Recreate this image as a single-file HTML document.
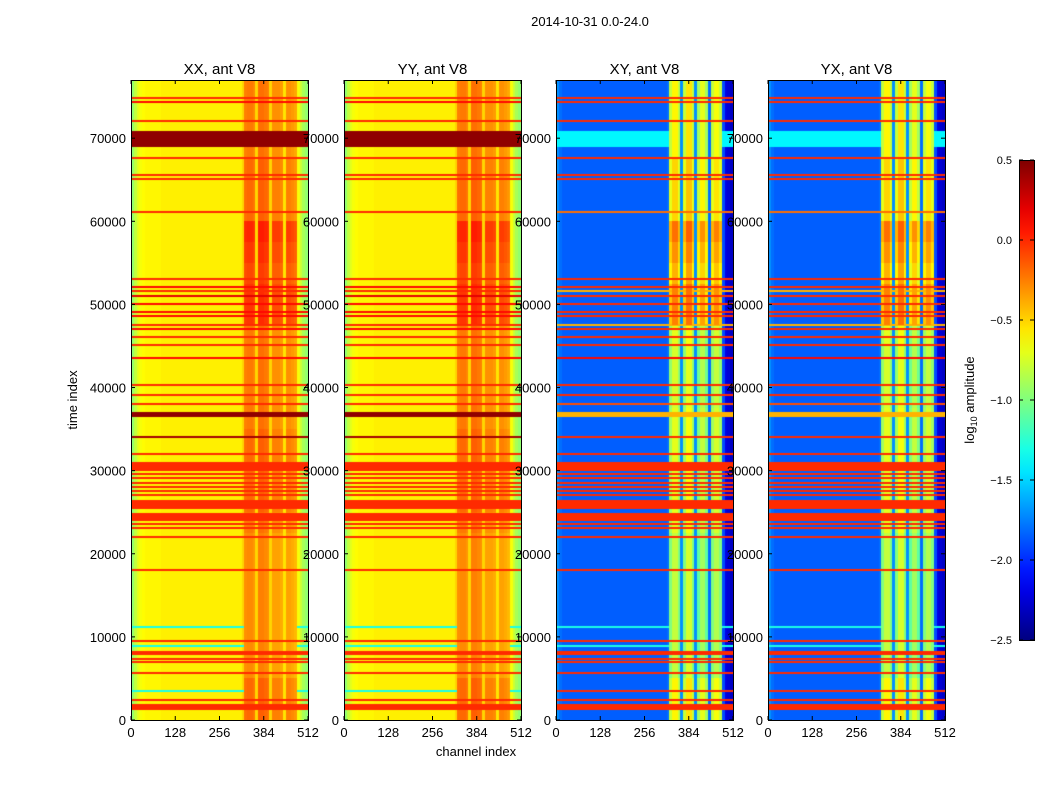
<!DOCTYPE html>
<html><head><meta charset="utf-8">
<style>
body{margin:0;background:#fff;width:1050px;height:800px;position:relative;overflow:hidden;font-family:"Liberation Sans",sans-serif;}
.t{position:absolute;font-size:13px;color:#000;white-space:nowrap;}
canvas{position:absolute;z-index:1;}
#ax{z-index:2;}
</style></head><body>
<div class="t" style="left:0;width:1180px;text-align:center;top:14px;">2014-10-31 0.0-24.0</div>
<svg id="ax" width="1050" height="800" style="position:absolute;left:0;top:0"></svg>
<script>
// ---- data ----
const panelTitles=["XX, ant V8","YY, ant V8","XY, ant V8","YX, ant V8"];
const xTicks=[0,128,256,384,512];
const yTicks=[0,10000,20000,30000,40000,50000,60000,70000];
const cbTicks=[0.5,0.0,-0.5,-1.0,-1.5,-2.0,-2.5];
// column profile per 8-channel bin (log10 amplitude)
const colXX=[-0.95,-0.8,-0.7,-0.65,-0.62,-0.6,-0.6,-0.6,-0.6,-0.6,-0.6,-0.58,-0.58,-0.58,-0.58,-0.58,-0.58,-0.58,-0.58,-0.58,-0.58,-0.58,-0.58,-0.58,-0.58,-0.58,-0.58,-0.58,-0.58,-0.58,-0.58,-0.58,-0.58,-0.58,-0.58,-0.58,-0.58,-0.58,-0.58,-0.58,
 -0.5,-0.3,-0.28,-0.28,-0.32,-0.5,-0.25,-0.25,-0.28,-0.3,-0.5,-0.35,-0.35,-0.35,-0.38,-0.55,-0.35,-0.35,-0.38,-0.42,-0.65,-0.78,-0.88,-0.95];
const colXY=[-1.7,-1.8,-1.85,-1.85,-1.85,-1.85,-1.85,-1.85,-1.85,-1.85,-1.85,-1.85,-1.85,-1.85,-1.85,-1.85,-1.85,-1.85,-1.85,-1.85,-1.85,-1.85,-1.85,-1.85,-1.85,-1.85,-1.85,-1.85,-1.85,-1.85,-1.85,-1.85,-1.85,-1.85,-1.85,-1.85,-1.85,-1.85,-1.85,-1.85,
 -1.8,-1.0,-0.8,-0.8,-1.0,-1.7,-1.0,-0.75,-0.75,-1.0,-1.7,-1.1,-0.9,-0.9,-1.1,-1.8,-1.0,-0.85,-0.85,-1.0,-1.9,-2.2,-2.25,-2.3];
// time-dependent boost of the bright region, per 2500 time units
const rowBoostXX=[0.1,0.1,0,0,0,0,0,0,0,0.05,0.1,0.1,0.1,0.1,0.05,0.05,0.05,0.05,0.05,0.25,0.25,0.2,0.25,0.3,0.1,0.1,0.1,0.05,0.05,0.05,0.05];
const rowBoostXY=[0.2,0.2,0,0,0,0,0,0,0,0.1,0.1,0.1,0.1,0.1,0.1,0.05,0.05,0.05,0.1,0.55,0.55,0.4,0.5,0.6,0.3,0.3,0.3,0.2,0.2,0.2,0.2];
// horizontal bands: start time, end time, value (auto-power), value (cross)
const bandStart=[1300,2300,3400,5600,6900,7300,7900,8800,9500,11100,18000,22000,23000,23500,24000,25500,27000,27500,28000,28500,29000,29500,30000,32000,34000,36500,38000,39000,40200,43500,45000,46000,47000,47500,48500,49000,50000,51000,51500,52000,53000,61000,65000,65500,67500,69000,72000,74300,74800];
const bandEnd  =[1900,2420,3520,5720,7020,7420,8300,8920,9620,11220,18120,22120,23120,23620,24800,26400,27120,27620,28120,28620,29120,29620,31000,32120,34150,37000,38120,39120,40320,43650,45120,46120,47120,47620,48620,49120,50120,51120,51620,52150,53120,61120,65120,65620,67620,70800,72120,74450,74920];
const bandVal  =[0,0,-1.3,0,0,0,0,-1.3,0,-1.3,0,0,0,0,0,0,0,0,0,0,0,0,0,0,0.4,0.45,0,0,0,0.1,0,0,0.1,0,0.1,0.1,0.1,0.2,0,0.1,0,0,0,0,0,0.45,0,0.1,0];
const bandValX =[0,0,0,0,0,0,0,-1.3,0,-1.3,0,0,0,0,0,0,0,0,0,0,0,0,0,0,0,-0.4,-0.1,0,0,0.1,0,0,0,-0.4,0,0,0,0,-0.4,0,0,-0.2,0,0,0,-1.4,0,0,0];
const tMax=77000, cMax=512;
// ---- layout ----
const panelX=[131,344,556,768], pw=177, py=80, ph=640;
function jet(v){let t=(v+2.5)/3;t=Math.max(0,Math.min(1,t));
 const f=x=>Math.max(0,Math.min(1,x));
 return [f(1.5-Math.abs(4*t-3))*255,f(1.5-Math.abs(4*t-2))*255,f(1.5-Math.abs(4*t-1))*255];}
const svg=document.getElementById('ax');const NS="http://www.w3.org/2000/svg";
function el(tag,attrs,txt){const e=document.createElementNS(NS,tag);for(const k in attrs)e.setAttribute(k,attrs[k]);if(txt!==undefined)e.textContent=txt;svg.appendChild(e);return e;}
panelX.forEach((px,pi)=>{
 const cv=document.createElement('canvas');cv.width=pw;cv.height=ph;cv.style.left=px+'px';cv.style.top=py+'px';
 
 
 document.body.appendChild(cv);
 const ctx=cv.getContext('2d');const img=ctx.createImageData(pw,ph);
 const cross=pi>=2;const col=cross?colXY:colXX;const boost=cross?rowBoostXY:rowBoostXX;const bv=cross?bandValX:bandVal;
 for(let y=0;y<ph;y++){const t0=(ph-y-1)/ph*tMax, t1=(ph-y)/ph*tMax, t=(t0+t1)/2;
  let band=null;for(let i=0;i<bandStart.length;i++){if(bandEnd[i]>=t0&&bandStart[i]<=t1){band=bv[i];break;}}
  const rb=boost[Math.min(boost.length-1,Math.floor(t/2500))];
  for(let x=0;x<pw;x++){const c=(x+0.5)/pw*cMax;const b=Math.min(col.length-1,Math.floor(c/8));
   let v=col[b];if(b>=41&&b<=59&&b!==45&&b!==50&&b!==55)v+=rb;
   if(band!==null){ if(band<-1){ v=(b>=41&&b<=59)?v:band; } else v=Math.max(v,band);}
   const [r,g,bl]=jet(v);const k=(y*pw+x)*4;img.data[k]=r;img.data[k+1]=g;img.data[k+2]=bl;img.data[k+3]=255;}}
 ctx.putImageData(img,0,0);
 const fr=el('rect',{x:px+0.5,y:py+0.5,width:pw,height:ph,fill:'none',stroke:'#000','stroke-width':1});
 
 const tt=el('text',{x:px+pw/2,y:74,'text-anchor':'middle','font-size':15,'font-family':'Liberation Sans'},panelTitles[pi]);
 
 xTicks.forEach(v=>{const x=px+v/cMax*pw;
  el('line',{x1:x,y1:py+ph,x2:x,y2:py+ph-4,stroke:'#000'});el('line',{x1:x,y1:py,x2:x,y2:py+4,stroke:'#000'});
  const l=el('text',{x:x,y:py+ph+17,'text-anchor':'middle','font-size':13,'font-family':'Liberation Sans'},v);
  });
 yTicks.forEach(v=>{const y=py+ph-v/tMax*ph;
  el('line',{x1:px,y1:y,x2:px+4,y2:y,stroke:'#000'});el('line',{x1:px+pw,y1:y,x2:px+pw-4,y2:y,stroke:'#000'});
  const l=el('text',{x:px-5,y:y+5,'text-anchor':'end','font-size':13,'font-family':'Liberation Sans'},v);
  });
});
const xl=el('text',{x:476,y:756,'text-anchor':'middle','font-size':13,'font-family':'Liberation Sans'},'channel index');

const yl=el('text',{x:77,y:400,'text-anchor':'middle','font-size':13,'font-family':'Liberation Sans',transform:'rotate(-90 77 400)'},'time index');

// colorbar
const cbx=1019,cby=160,cbw=15,cbh=480;
const defs=el('defs',{});const lg=document.createElementNS(NS,'linearGradient');lg.setAttribute('id','jg');lg.setAttribute('x1',0);lg.setAttribute('y1',1);lg.setAttribute('x2',0);lg.setAttribute('y2',0);defs.appendChild(lg);
for(let i=0;i<=20;i++){const v=-2.5+3*i/20;const [r,g,b]=jet(v);const s=document.createElementNS(NS,'stop');s.setAttribute('offset',i/20);s.setAttribute('stop-color',`rgb(${r|0},${g|0},${b|0})`);lg.appendChild(s);}
const cb=el('rect',{x:cbx+0.5,y:cby+0.5,width:cbw,height:cbh,fill:'url(#jg)',stroke:'#000'});

cbTicks.forEach(v=>{const y=cby+cbh-(v+2.5)/3*cbh;
 el('line',{x1:cbx,y1:y,x2:cbx+4,y2:y,stroke:'#000'});el('line',{x1:cbx+cbw,y1:y,x2:cbx+cbw-4,y2:y,stroke:'#000'});
 const l=el('text',{x:1012,y:y+4,'text-anchor':'end','font-size':11,'font-family':'Liberation Sans'},(v<0?'\u2212':'')+Math.abs(v).toFixed(1));
 });
const cl=el('text',{x:974,y:400,'text-anchor':'middle','font-size':13,'font-family':'Liberation Sans',transform:'rotate(-90 974 400)'});

cl.innerHTML='log<tspan font-size="9" dy="3">10</tspan><tspan dy="-3"> amplitude</tspan>';
</script>
</body></html>
